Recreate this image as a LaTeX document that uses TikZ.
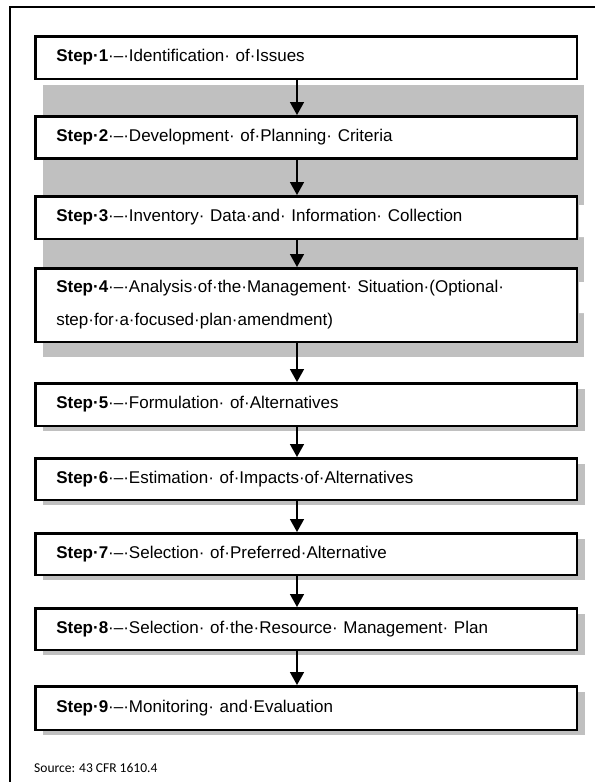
\documentclass[tikz,border=0pt]{standalone}
\usepackage{fontspec}
\setmainfont{Liberation Sans}
\newfontfamily\sourcefont{Carlito}
\usetikzlibrary{arrows.meta,shadows}
\definecolor{ShadeGray}{HTML}{C0C0C0}

\begin{document}
\begin{tikzpicture}[x=1pt,y=-1pt,font=\fontsize{17}{33}\selectfont,
    stepbox/.style={draw=black,fill=white,line width=2.5pt,anchor=north west,
      text width=499.5pt,inner xsep=21pt,inner ysep=0pt,align=left},
    shadowbox/.style={stepbox,drop shadow={shadow xshift=8pt,shadow yshift=-5.5pt,
      fill=ShadeGray,opacity=1}},
    flowarrow/.style={line width=1.5pt,-{Triangle[width=14pt,length=13pt]}}]
  \useasboundingbox (0,0) rectangle (595,782);
  \draw[line width=1.6pt] (10,782) -- (10,7) -- (595,7);
  % shaded band behind steps 1 to 4
  \fill[ShadeGray] (43,85) rectangle (584,357);
  \fill[white] (579,205) rectangle (585,237) (579,282) rectangle (585,313);
  \foreach \i/\y/\h/\kind/\steptext in {
    1/35/42.5/stepbox/Identification· of·Issues,
    2/115/42/stepbox/Development· of·Planning· Criteria,
    3/195/42.5/stepbox/Inventory· Data·and· Information· Collection,
    4/267/73.5/stepbox/Analysis·of·the·Management· Situation·(Optional·\\step·for·a·focused·plan·amendment),
    5/382/42.5/shadowbox/Formulation· of·Alternatives,
    6/457/41.5/shadowbox/Estimation· of·Impacts·of·Alternatives,
    7/532/41.5/shadowbox/Selection· of·Preferred·Alternative,
    8/607/41.5/shadowbox/Selection· of·the·Resource· Management· Plan,
    9/685/43.5/shadowbox/Monitoring· and·Evaluation}{%
    \node[\kind,minimum height=\h pt] (s\i) at (34,\y) {\textbf{Step·\i}·–·\steptext};
  }
  \coordinate (ax) at (297,0);
  \foreach \i [count=\j from 2] in {1,...,8}
    \draw[flowarrow] (s\i.south -| ax) -- (s\j.north -| ax);
  \node[anchor=west,inner sep=0pt,font=\sourcefont\fontsize{13.5}{15}\selectfont] (src) at (34,768) {Source: 43 CFR 1610.4};
\end{tikzpicture}
\end{document}
